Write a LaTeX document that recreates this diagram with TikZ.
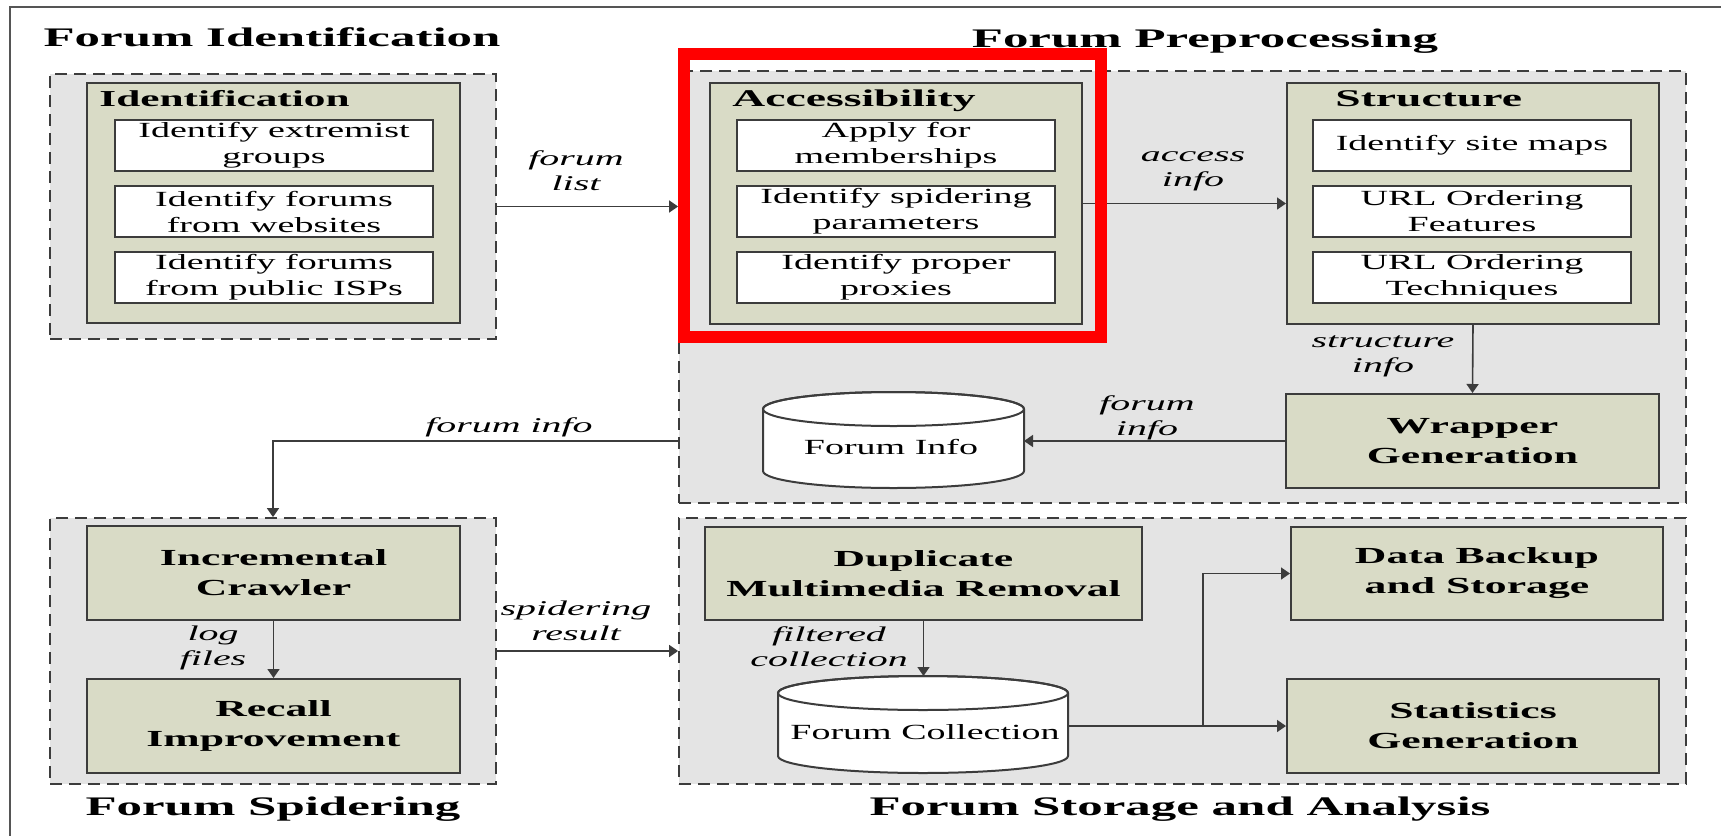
\documentclass[tikz,border=0pt]{standalone}
\usepackage{fontspec}
\setmainfont[FakeStretch=1.9]{Liberation Serif}
\newfontfamily\bodyff[FakeStretch=1.76]{Liberation Serif}
\usetikzlibrary{arrows.meta}
\definecolor{boxgray}{HTML}{E4E4E4}
\definecolor{olivebox}{HTML}{D9DBC6}
\definecolor{edge}{HTML}{3C3C3C}
\definecolor{framec}{HTML}{555555}
\newcommand\fdBody{\bodyff\fontsize{10.8}{13}\selectfont}
\newcommand\fdBox{\fontsize{11.5}{15}\selectfont\bfseries}
\newcommand\fdLbl{\fontsize{10.5}{12.5}\selectfont\itshape}
\newcommand\fdTitle{\fontsize{13.4}{16}\selectfont\bfseries}
\newcommand\fdHead{\fontsize{12}{14}\selectfont\bfseries}
\newcommand\px{0.5pt}
\tikzset{
  dashbox/.style={draw=edge, fill=boxgray, line width=0.9pt, dash pattern=on 6pt off 3.5pt, inner sep=0pt},
  greenbox/.style={draw=edge, fill=olivebox, line width=1pt, inner sep=0pt},
  whitebox/.style={draw=edge, fill=white, line width=1pt, inner sep=0pt, align=center, font=\fdBody, minimum width=318*\px, minimum height=51*\px},
  boldbox/.style={greenbox, align=center, font=\fdBox},
  lbl/.style={align=center, font=\fdLbl, inner sep=0pt},
  titlenode/.style={font=\fdTitle, inner sep=0pt, anchor=base},
  headnode/.style={font=\fdHead, inner sep=0pt, anchor=base west},
  arr/.style={draw=edge, line width=0.8pt, -{Triangle[length=4.5pt,width=6pt]}},
  cyl/.style={draw=edge, fill=white, line width=1pt},
}
\begin{document}
\begin{tikzpicture}[x=0.5pt,y=-0.5pt]
\useasboundingbox (0,0) rectangle (1721,836);
\fill[white] (0,0) rectangle (1721,836);
\draw[framec, line width=1pt] (10,836) -- (10,7) -- (1721,7);

% titles
\node[titlenode] (tid) at (272,46) {Forum Identification};
\node[titlenode] (tpp) at (1205,47) {Forum Preprocessing};
\node[titlenode] (tsp) at (273,815) {Forum Spidering};
\node[titlenode] (tsa) at (1180,815) {Forum Storage and Analysis};

% dashed group boxes
\node[dashbox, minimum width=446*\px, minimum height=265*\px] (idd) at (273,206.5) {};
\node[dashbox, minimum width=1007*\px, minimum height=432*\px] (ppd) at (1182.5,287) {};
\node[dashbox, minimum width=446*\px, minimum height=266*\px] (spd) at (273,651) {};
\node[dashbox, minimum width=1007*\px, minimum height=266*\px] (sad) at (1182.5,651) {};

% green container boxes
\node[greenbox, minimum width=373*\px, minimum height=240*\px] (idg) at (273.5,203) {};
\node[greenbox, minimum width=372*\px, minimum height=241*\px] (acg) at (896,203.5) {};
\node[greenbox, minimum width=372*\px, minimum height=241*\px] (stg) at (1473,203.5) {};
\node[headnode, font=\fontsize{11.4}{14}\selectfont\bfseries] (idh) at (99,106) {Identification};
\node[headnode] (ach) at (732,106) {Accessibility};
\node[headnode] (sth) at (1335,106) {Structure};

% white boxes
\node[whitebox] (id1) at (274,145) {Identify extremist\\groups};
\node[whitebox] (id2) at (274,211.5) {Identify forums\\from websites};
\node[whitebox] (id3) at (274,277.5) {Identify forums\\from public ISPs};
\node[whitebox] (ac1) at (896,145) {Apply for\\memberships};
\node[whitebox] (ac2) at (896,211.5) {Identify spidering\\parameters};
\node[whitebox] (ac3) at (896,277.5) {Identify proper\\proxies};
\node[whitebox] (st1) at (1472,145) {Identify site maps};
\node[whitebox] (st2) at (1472,211.5) {URL Ordering\\Features};
\node[whitebox] (st3) at (1472,277.5) {URL Ordering\\Techniques};

% bold boxes
\node[boldbox, minimum width=373*\px, minimum height=94*\px] (wrap) at (1472.5,441) {Wrapper\\Generation};
\node[boldbox, minimum width=373*\px, minimum height=94*\px] (inc) at (273.5,573) {Incremental\\Crawler};
\node[boldbox, minimum width=373*\px, minimum height=94*\px] (rec) at (273.5,726) {Recall\\Improvement};
\node[boldbox, minimum width=437*\px, minimum height=93*\px] (dup) at (923.5,573.5) {Duplicate\\Multimedia Removal};
\node[boldbox, minimum width=372*\px, minimum height=93*\px] (dbk) at (1477,573.5) {Data Backup\\and Storage};
\node[boldbox, minimum width=372*\px, minimum height=94*\px] (stat) at (1473,726) {Statistics\\Generation};

% cylinders
\filldraw[cyl] (763,409) -- (763,471) arc[start angle=180,end angle=360,x radius=65.25pt,y radius=8.5pt]
  -- (1024,409) arc[start angle=0,end angle=180,x radius=65.25pt,y radius=8.5pt] -- cycle;
\draw[edge, line width=1pt] (893.5,409) ellipse [x radius=65.25pt, y radius=8.5pt];
\node[font=\fdBody, inner sep=0pt] (fitext) at (891,447) {Forum Info};
\filldraw[cyl] (778,693) -- (778,756) arc[start angle=180,end angle=360,x radius=72.5pt,y radius=8.5pt]
  -- (1068,693) arc[start angle=0,end angle=180,x radius=72.5pt,y radius=8.5pt] -- cycle;
\draw[edge, line width=1pt] (923,693) ellipse [x radius=72.5pt, y radius=8.5pt];
\node[font=\fdBody, inner sep=0pt] (fctext) at (925,732) {Forum Collection};

\coordinate (fiR) at (1024,441);
\coordinate (fcT) at (923,676);
\coordinate (fcR) at (1068,726);
\coordinate (br) at (1203,726);

% connectors
\draw[arr] (idd.east) -- (idd.east -| ppd.west);
\draw[arr] (acg.east) -- (stg.west);
\draw[arr] (stg.south) -- (wrap.north);
\draw[arr] (wrap.west) -- (fiR);
\draw[arr] (ppd.west |- fiR) -| (spd.north);
\draw[arr] (inc.south) -- (rec.north);
\draw[arr] (spd.east) -- (sad.west);
\draw[arr] (dup.south) -- (dup.south |- fcT);
\draw[arr] (fcR) -- (stat.west);
\draw[arr] (br) |- (dbk.west);

% labels
\node[lbl] (l1) at (576,171) {forum\\list};
\node[lbl] (l2) at (1193,171) {access\\info};
\node[lbl] (l3) at (1383,356) {structure\\info};
\node[lbl] (l4) at (1147,418) {forum\\info};
\node[lbl] (l5) at (509,427) {forum info};
\node[lbl] (l6) at (213,648) {log\\files};
\node[lbl] (l7) at (576,621) {spidering\\result};
\node[lbl] (l8) at (829,647) {filtered\\collection};

% highlight
\draw[red, line width=6pt] (684,54) rectangle (1101,337);
\end{tikzpicture}
\end{document}
